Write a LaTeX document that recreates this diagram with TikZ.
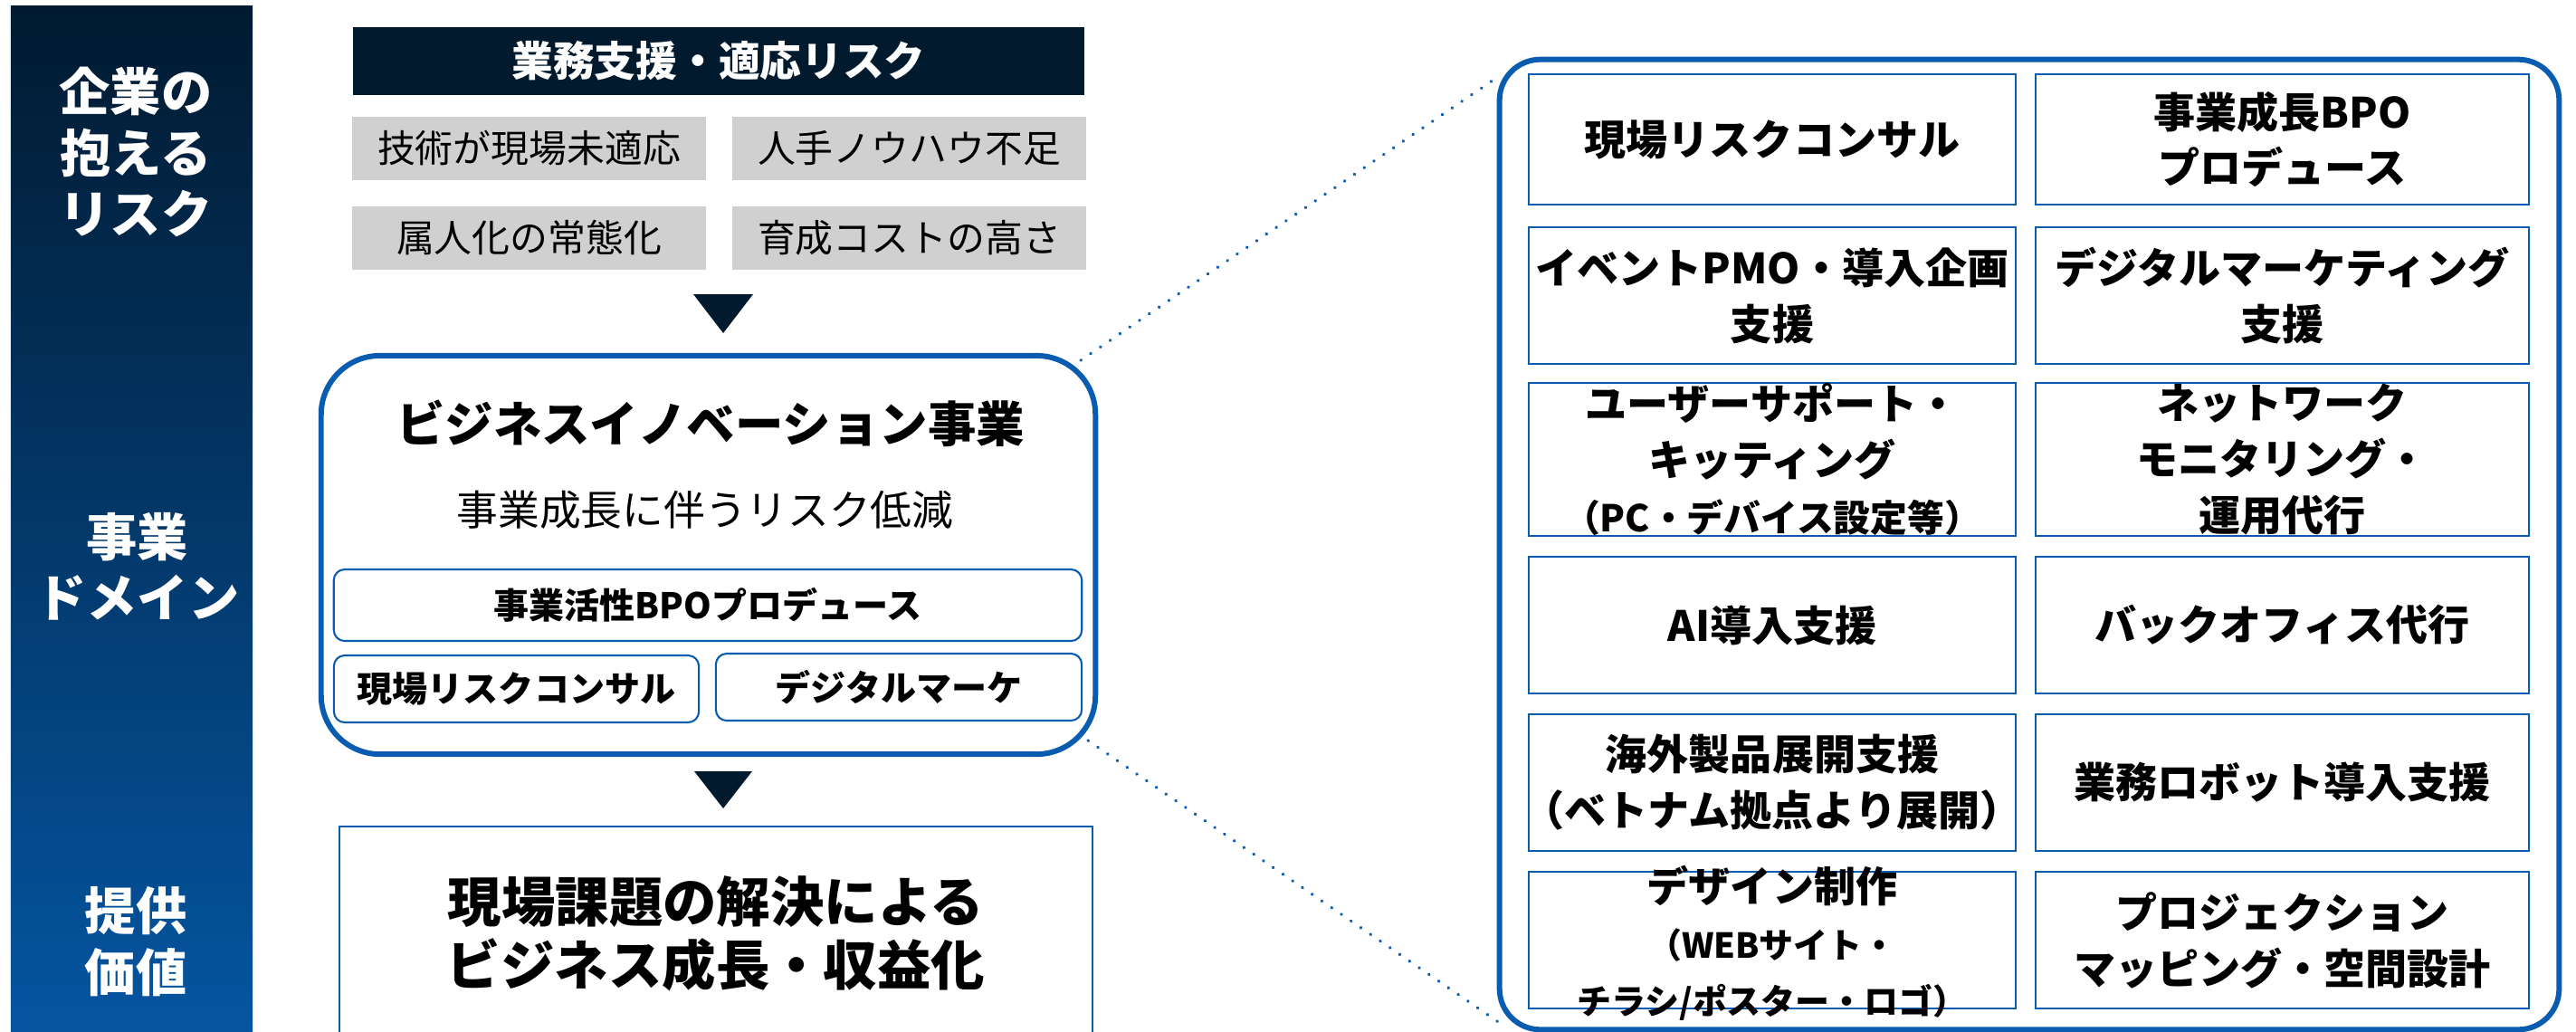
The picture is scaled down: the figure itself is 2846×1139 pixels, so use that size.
\documentclass[tikz,border=0pt]{standalone}
\usepackage{fontspec}
\setmainfont{Noto Sans CJK JP}
\usepackage{tikz}
\usetikzlibrary{positioning}
\usepackage{xcolor}

\definecolor{navy}{HTML}{021A2E}
\definecolor{deepblue}{HTML}{0A5CB0}
\definecolor{riskgray}{HTML}{D0D0D0}
\definecolor{sidetop}{HTML}{011A30}
\definecolor{sidebot}{HTML}{0556A3}
\newcommand{\noteline}{\fontsize{10.8}{14.5}\selectfont}

\begin{document}
\begin{tikzpicture}[x=0.01cm, y=-0.01cm,
  sidelabel/.style={text=white, align=center, font=\fontsize{16}{19.2}\selectfont\bfseries},
  riskbox/.style={fill=riskgray, minimum width=3.9cm, minimum height=0.7cm, inner sep=0pt, font=\fontsize{11.9}{14}\selectfont},
  subbox/.style={draw=deepblue, line width=0.6pt, rounded corners=0.12cm, inner sep=0pt, font=\fontsize{11.1}{13}\selectfont\bfseries},
  bigframe/.style={draw=deepblue, line width=1.7pt, inner sep=0pt},
  celltext/.style={inner sep=0pt, align=center, font=\fontsize{13.1}{17.6}\selectfont\bfseries},
  cell/.style={draw=deepblue, line width=0.6pt, celltext},
  dotlink/.style={deepblue, line width=1.1pt, dash pattern=on 0.01pt off 3.7pt, line cap=round}]
  \useasboundingbox (0,0) rectangle (2846,1139);

  % left column
  \node[top color=sidetop, bottom color=sidebot, minimum width=2.67cm, minimum height=11.5cm, inner sep=0pt] (side) at (145.5,582) {};
  \node[sidelabel] (lrisk) at (150,168) {企業の\\抱える\\リスク};
  \node[sidelabel] (ldomain) at (152,626) {事業\\ドメイン};
  \node[sidelabel] (lvalue) at (150,1040) {提供\\価値};

  % risks
  \node[fill=navy, text=white, minimum width=8.08cm, minimum height=0.75cm, inner sep=0pt, font=\fontsize{13}{15}\selectfont\bfseries] (head) at (794,67.5) {業務支援・適応リスク};
  \node[riskbox] (r1) at (584.5,164) {技術が現場未適応};
  \node[riskbox] (r2) at (1004.5,164) {人手ノウハウ不足};
  \node[riskbox] (r3) at (584.5,263) {属人化の常態化};
  \node[riskbox] (r4) at (1004.5,263) {育成コストの高さ};
  \fill[navy] (766,325) -- (832,325) -- (799,368) -- cycle;

  % business
  \node[bigframe, rounded corners=0.65cm, minimum width=8.55cm, minimum height=4.4cm] (biz) at (782.5,613) {};
  \node[font=\fontsize{15.2}{18}\selectfont\bfseries] (bizname) at (785,468) {ビジネスイノベーション事業};
  \node[font=\fontsize{13}{15}\selectfont] (bizaim) at (779,563) {事業成長に伴うリスク低減};
  \node[subbox, minimum width=8.26cm, minimum height=0.79cm] (bpo) at (782,668.5) {事業活性BPOプロデュース};
  \node[subbox, minimum width=4.03cm, minimum height=0.74cm] (consul) at (570.5,761) {現場リスクコンサル};
  \node[subbox, minimum width=4.04cm, minimum height=0.74cm] (dmkt) at (993,759) {デジタルマーケ};
  \fill[navy] (767,852) -- (831,852) -- (799,893) -- cycle;

  % value
  \node[draw=deepblue, line width=0.6pt, minimum width=8.32cm, minimum height=2.37cm, inner sep=0pt, align=center, font=\fontsize{16.9}{19.9}\selectfont\bfseries] (value) at (791,1031.5) {現場課題の解決による\\ビジネス成長・収益化};

  % services
  \node[bigframe, rounded corners=0.45cm, minimum width=11.7cm, minimum height=10.71cm] (svc) at (2242,601.5) {};
  \node[cell, minimum width=5.38cm, minimum height=1.44cm] (s11) at (1958,154) {現場リスクコンサル};
  \node[cell, minimum width=5.45cm, minimum height=1.44cm] (s12) at (2521.5,154) {事業成長BPO\\プロデュース};
  \node[cell, minimum width=5.38cm, minimum height=1.51cm] (s21) at (1958,326.5) {イベントPMO・導入企画\\支援};
  \node[cell, minimum width=5.45cm, minimum height=1.51cm] (s22) at (2521.5,326.5) {デジタルマーケティング\\支援};
  \node[cell, minimum width=5.38cm, minimum height=1.69cm] (s31) at (1958,507.5) {ユーザーサポート・\\キッティング\\{\fontsize{11.6}{16.5}\selectfont（PC・デバイス設定等）}};
  \node[cell, minimum width=5.45cm, minimum height=1.69cm] (s32) at (2521.5,507.5) {ネットワーク\\モニタリング・\\運用代行};
  \node[cell, minimum width=5.38cm, minimum height=1.51cm] (s41) at (1958,690.5) {AI導入支援};
  \node[cell, minimum width=5.45cm, minimum height=1.51cm] (s42) at (2521.5,690.5) {バックオフィス代行};
  \node[cell, minimum width=5.38cm, minimum height=1.51cm] (s51) at (1958,864.5) {海外製品展開支援\\\makebox[5.2cm]{（ベトナム拠点より展開）}};
  \node[cell, minimum width=5.45cm, minimum height=1.51cm] (s52) at (2521.5,864.5) {業務ロボット導入支援};
  \node[cell, minimum width=5.38cm, minimum height=1.51cm,
    label={[celltext, yshift=-0.03cm]center:デザイン制作\\{\noteline （WEBサイト・}\\{\noteline チラシ/ポスター・ロゴ）}}] (s61) at (1958,1038.5) {};
  \node[cell, minimum width=5.45cm, minimum height=1.51cm] (s62) at (2521.5,1038.5) {プロジェクション\\マッピング・空間設計};

  \draw[dotlink] ([shift={(-19,8)}]biz.north east) -- ([shift={(0,23)}]svc.north west);
  \draw[dotlink] ([shift={(-11,-18)}]biz.south east) -- ([shift={(8,-7)}]svc.south west);
\end{tikzpicture}
\end{document}
